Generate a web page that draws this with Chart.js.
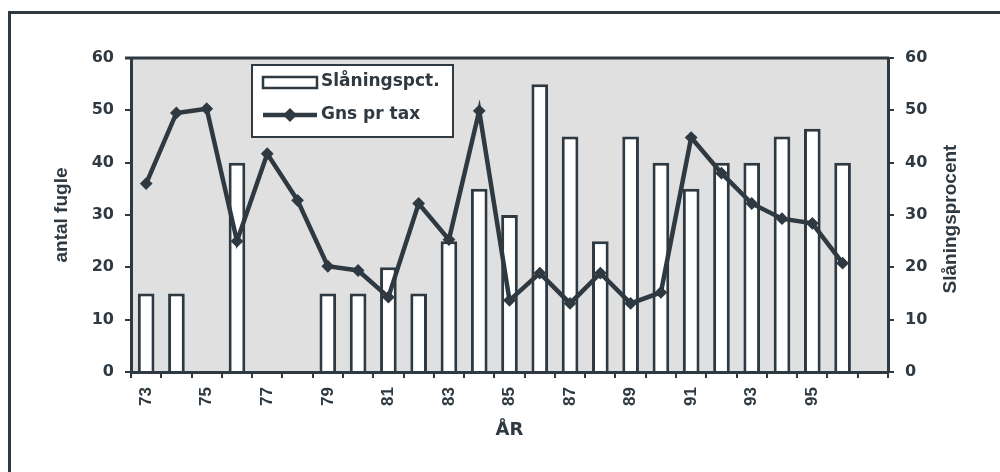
<!DOCTYPE html>
<html>
<head>
<meta charset="utf-8">
<script src="https://cdn.jsdelivr.net/npm/chart.js@4.4.1/dist/chart.umd.min.js"></script>
<style>
    html, body { margin: 0; padding: 0; background: #fff; }
    #wrap { position: relative; width: 1000px; height: 472px; overflow: hidden; }
    #frame {
        position: absolute; left: 8px; top: 11px; width: 1100px; height: 600px;
        border-top: 3px solid #2f3941; border-left: 3px solid #2f3941;
    }
    #chart { position: absolute; left: 0; top: 0; }
</style>
</head>
<body>
<div id="wrap">
    <div id="frame"></div>
    <canvas id="chart" width="1000" height="472"></canvas>
</div>
<script>
// years on the x axis (97 is an empty slot at the end)
const years = ['73','74','75','76','77','78','79','80','81','82','83','84','85',
               '86','87','88','89','90','91','92','93','94','95','96','97'];
const tickYears = ['73','75','77','79','81','83','85','87','89','91','93','95'];
const yTicks = [0, 10, 20, 30, 40, 50, 60];

// Slåningspct. (bars, right axis)
const slaaningPct = [15, 15, null, 40, null, null, 15, 15, 20, 15, 25, 35, 30,
                     55, 45, 25, 45, 40, 35, 40, 40, 45, 46.5, 40, null];
// Gns pr tax (line, left axis)
const gnsPrTax = [36, 49.5, 50.3, 25, 41.7, 32.8, 20.2, 19.4, 14.3, 32.2, 25.3, 49.9, 13.7,
                  18.9, 13.1, 18.9, 13.1, 15.2, 44.8, 38, 32.2, 29.3, 28.4, 20.8, null];

const rightTitle = 'Slåningsprocent';

const ink = '#2f3941';
const plotGray = '#e0e0e0';
const wideFont = 'DejaVu Sans';
const narrowFont = 'Liberation Sans';

// grey plot background + top frame line
const plotFrame = {
    id: 'plotFrame',
    beforeDraw(chart) {
        const { ctx, chartArea: a } = chart;
        ctx.save();
        ctx.fillStyle = plotGray;
        ctx.fillRect(a.left, a.top, a.right - a.left, a.bottom - a.top);
        ctx.strokeStyle = ink;
        ctx.lineWidth = 3;
        ctx.beginPath();
        ctx.moveTo(a.left - 6, a.top);
        ctx.lineTo(a.right + 1, a.top);
        ctx.stroke();
        ctx.restore();
    }
};

// right axis title, read bottom to top like the left one
const rightAxisTitle = {
    id: 'rightAxisTitle',
    afterDraw(chart) {
        const { ctx, chartArea: a } = chart;
        ctx.save();
        ctx.translate(951, (a.top + a.bottom) / 2 + 4);
        ctx.rotate(-Math.PI / 2);
        ctx.font = `bold 19px "${narrowFont}"`;
        ctx.fillStyle = ink;
        ctx.textAlign = 'center';
        ctx.textBaseline = 'middle';
        ctx.fillText(rightTitle, 0, 0);
        ctx.restore();
    }
};

// boxed legend inside the plot
const boxLegend = {
    id: 'boxLegend',
    afterDraw(chart) {
        const ctx = chart.ctx;
        const bars = chart.data.datasets[0];
        const line = chart.data.datasets[1];
        const x = 252, y = 65, w = 201, h = 72;
        ctx.save();
        ctx.fillStyle = '#fff';
        ctx.fillRect(x, y, w, h);
        ctx.strokeStyle = ink;
        ctx.lineWidth = 2;
        ctx.strokeRect(x, y, w, h);

        // bar swatch
        ctx.lineWidth = 2.5;
        ctx.strokeRect(263, 77, 54, 11);

        // line swatch with diamond
        ctx.lineWidth = 4.5;
        ctx.beginPath();
        ctx.moveTo(263, 115);
        ctx.lineTo(317, 115);
        ctx.stroke();
        ctx.fillStyle = ink;
        ctx.beginPath();
        ctx.moveTo(290, 108);
        ctx.lineTo(297, 115);
        ctx.lineTo(290, 122);
        ctx.lineTo(283, 115);
        ctx.closePath();
        ctx.fill();

        ctx.font = `bold 17px "${wideFont}"`;
        ctx.textBaseline = 'middle';
        ctx.fillText(bars.label, 321, 82);
        ctx.fillText(line.label, 321, 115);
        ctx.restore();
    }
};

const yTickCallback = v => (yTicks.includes(v) ? v : '');

new Chart(document.getElementById('chart'), {
    data: {
        labels: years,
        datasets: [{
            type: 'bar',
            label: 'Slåningspct.',
            data: slaaningPct,
            yAxisID: 'yRight',
            backgroundColor: '#ffffff',
            borderColor: ink,
            borderWidth: 3,
            barPercentage: 0.55,
            categoryPercentage: 1.0,
            order: 2
        }, {
            type: 'line',
            label: 'Gns pr tax',
            data: gnsPrTax,
            yAxisID: 'yLeft',
            borderColor: ink,
            borderWidth: 4.5,
            pointStyle: 'rectRot',
            pointRadius: 5,
            pointBorderWidth: 2,
            pointBackgroundColor: ink,
            pointBorderColor: ink,
            tension: 0,
            order: 1
        }]
    },
    options: {
        responsive: false,
        animation: false,
        layout: { padding: { top: 58, left: 0, right: 0, bottom: 0 } },
        plugins: {
            legend: { display: false },
            tooltip: { enabled: false }
        },
        scales: {
            x: {
                type: 'category',
                offset: true,
                grid: { offset: true, drawOnChartArea: false, color: ink, lineWidth: 2, tickLength: 6 },
                border: { color: ink, width: 3 },
                ticks: {
                    autoSkip: false,
                    minRotation: 90,
                    maxRotation: 90,
                    padding: 9,
                    color: ink,
                    font: { family: narrowFont, size: 17, weight: 'bold' },
                    callback: function (v) {
                        const lab = this.getLabelForValue(v);
                        return tickYears.includes(lab) ? lab : '';
                    }
                },
                title: {
                    display: true,
                    text: 'ÅR',
                    color: ink,
                    font: { family: wideFont, size: 18, weight: 'bold' },
                    padding: { top: 0, bottom: 31 }
                },
                afterFit(s) { s.height = 100; }
            },
            yLeft: {
                position: 'left',
                min: 0,
                max: 60,
                grid: { drawOnChartArea: false, color: ink, lineWidth: 2, tickLength: 6 },
                border: { color: ink, width: 3 },
                ticks: {
                    stepSize: 10,
                    padding: 11,
                    color: ink,
                    font: { family: wideFont, size: 16, weight: 'bold' },
                    callback: yTickCallback
                },
                title: {
                    display: true,
                    text: 'antal fugle',
                    color: ink,
                    font: { family: narrowFont, size: 19, weight: 'bold' },
                    padding: { top: 50, bottom: 0 }
                },
                afterFit(s) { s.width = 131; }
            },
            yRight: {
                position: 'right',
                min: 0,
                max: 60,
                grid: { drawOnChartArea: false, color: ink, lineWidth: 2, tickLength: 6 },
                border: { color: ink, width: 3 },
                ticks: {
                    stepSize: 10,
                    padding: 11,
                    color: ink,
                    font: { family: wideFont, size: 16, weight: 'bold' },
                    callback: yTickCallback
                },
                title: { display: false },
                afterFit(s) { s.width = 112; }
            }
        }
    },
    plugins: [plotFrame, rightAxisTitle, boxLegend]
});
</script>
</body>
</html>
